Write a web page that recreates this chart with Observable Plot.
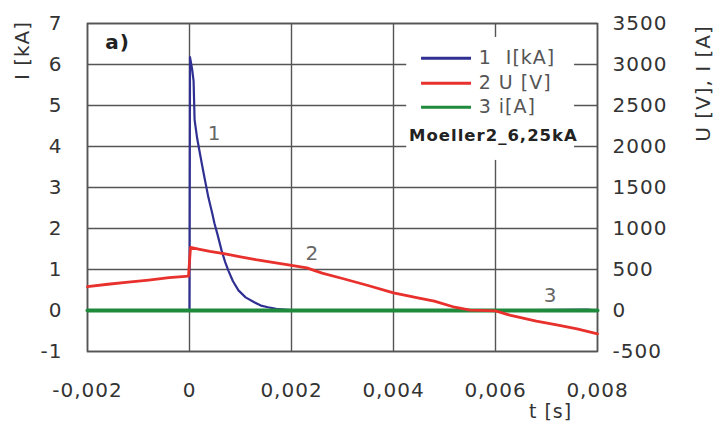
<!DOCTYPE html>
<html>
<head>
<meta charset="utf-8">
<script src="https://cdn.jsdelivr.net/npm/d3@7"></script>
<script src="https://cdn.jsdelivr.net/npm/@observablehq/plot@0.6"></script>
<style>
  html, body { margin: 0; padding: 0; background: #fff; }
</style>
</head>
<body>
<div id="chart"></div>
<script>
// ---- data ----
const xTicks = [-0.002, 0, 0.002, 0.004, 0.006, 0.008];
const yTicksLeft = [-1, 0, 1, 2, 3, 4, 5, 6, 7];
const yTicksRight = [-500, 0, 500, 1000, 1500, 2000, 2500, 3000, 3500];

// series 1: I [kA]
const tI = [-0.002, 0, 0.00001, 0.00005, 0.00008, 0.0001, 0.00015, 0.00024, 0.0003, 0.00037, 0.00045, 0.00049,
            0.00055, 0.00063, 0.0007, 0.00076, 0.00085, 0.00096, 0.0011, 0.00127, 0.0014, 0.00154, 0.0017,
            0.0018, 0.002, 0.004, 0.006, 0.0078, 0.008];
const I_kA = [0, 0, 6.18, 5.9, 5.6, 4.65, 4.2, 3.59, 3.2, 2.76, 2.35, 2.12,
              1.85, 1.46, 1.18, 0.98, 0.72, 0.49, 0.32, 0.2, 0.12, 0.08, 0.04,
              0.03, 0.01, 0.01, 0.0, 0.02, 0.0];

// series 2: U [V]
const tU = [-0.002, -0.0016, -0.0012, -0.0008, -0.0004, -0.00002, 0.00002, 0.0002, 0.0004, 0.0007, 0.001,
            0.0013, 0.0016, 0.002, 0.0023, 0.0026, 0.003, 0.0035, 0.004, 0.0045, 0.0048, 0.0052, 0.0055,
            0.006, 0.0063, 0.0068, 0.0072, 0.0076, 0.008];
const U_V = [290, 320, 345, 370, 400, 420, 770, 745, 720, 690, 655,
             620, 590, 550, 520, 455, 390, 305, 215, 150, 115, 40, 5,
             -5, -60, -130, -175, -225, -285];

// series 3: i [A]
const tIa = [-0.002, 0, 0.002, 0.004, 0.006, 0.008];
const i_A = [0, 0, 0, 0, 0, 0];

const seriesNames = ["1", "2", "3"];
const legendLabels = ["1  I[kA]", "2 U [V]", "3 i[A]"];
const caseName = "Moeller2_6,25kA";
const panelLabel = "a)";
const xTitle = "t [s]";
const yTitleLeft = "I [kA]";
const yTitleRight = "U [V], I [A]";

// ---- build tables ----
const ratio = (yTicksRight[yTicksRight.length - 1] - yTicksRight[0]) / (yTicksLeft[yTicksLeft.length - 1] - yTicksLeft[0]);
const dI = tI.map((t, k) => ({t, v: I_kA[k]}));
const dU = tU.map((t, k) => ({t, v: U_V[k] / ratio}));
const dA = tIa.map((t, k) => ({t, v: i_A[k] / ratio}));

const colors = ["#303093", "#e8302c", "#1f8a3c"];
const fmtX = d => d === 0 ? "0" : d.toFixed(3).replace(".", ",");
const fmtL = d => String(d);
const fmtR = d => String(yTicksRight[yTicksLeft.indexOf(d)]);

const legendY = [6.15, 5.54, 4.96];
const legend = legendLabels.map((label, k) => ({label, y: legendY[k], c: colors[k]}));

const chart = Plot.plot({
  width: 717,
  height: 421,
  marginLeft: 87,
  marginRight: 120,
  marginTop: 23,
  marginBottom: 70,
  x: {domain: [-0.002, 0.008]},
  y: {domain: [-1, 7]},
  style: {fontFamily: "DejaVu Sans", fontSize: "20px", color: "#333", background: "#fff", letterSpacing: "1px"},
  marks: [
    Plot.gridX(xTicks, {stroke: "#555", strokeOpacity: 1, strokeWidth: 1.4}),
    Plot.gridY(yTicksLeft, {stroke: "#555", strokeOpacity: 1, strokeWidth: 1.4}),
    Plot.frame({stroke: "#555", strokeWidth: 1.6}),
    // legend background
    Plot.rect([0], {x1: 0.00426, x2: 0.00755, y1: 3.66, y2: 6.66, fill: "white"}),
    Plot.ruleY(legend, {y: "y", x1: 0.00455, x2: 0.00553, stroke: "c", strokeWidth: 3}),
    Plot.text(legend, {y: "y", x: 0.00567, text: "label", textAnchor: "start", fill: "#555", fontSize: 19}),
    Plot.text([caseName], {x: 0.00596, y: 4.27, fill: "#222", fontWeight: "bold", fontSize: 16.5}),
    // series
    Plot.line(dI, {x: "t", y: "v", stroke: colors[0], strokeWidth: 2.2}),
    Plot.line(dA, {x: "t", y: "v", stroke: colors[2], strokeWidth: 4}),
    Plot.line(dU, {x: "t", y: "v", stroke: colors[1], strokeWidth: 2.8}),
    // curve annotations
    Plot.text([
      {s: seriesNames[0], t: 0.00049, v: 4.32},
      {s: seriesNames[1], t: 0.00241, v: 1.39},
      {s: seriesNames[2], t: 0.00708, v: 0.37}
    ], {x: "t", y: "v", text: "s", fill: "#666", fontSize: 20}),
    Plot.text([panelLabel], {x: -0.00141, y: 6.54, fontWeight: "bold", fill: "#222", fontSize: 20}),
    // axes
    Plot.axisX(xTicks, {tickFormat: fmtX, tickSize: 0, tickPadding: 31, label: null, fill: "#333"}),
    Plot.axisY(yTicksLeft, {anchor: "left", tickFormat: fmtL, tickSize: 0, tickPadding: 25, label: null, fill: "#333"}),
    Plot.axisY(yTicksLeft, {anchor: "right", tickFormat: fmtR, tickSize: 0, tickPadding: 15, label: null, fill: "#333"}),
    // axis titles
    Plot.text([xTitle], {frameAnchor: "bottom-right", textAnchor: "middle", lineAnchor: "middle", dx: -47, dy: 60, fill: "#333", fontSize: 19}),
    Plot.text([yTitleLeft], {frameAnchor: "top-left", textAnchor: "middle", lineAnchor: "middle", dx: -65, dy: 27, rotate: -90, fill: "#333", fontSize: 20}),
    Plot.text([yTitleRight], {frameAnchor: "top-right", textAnchor: "middle", lineAnchor: "middle", dx: 106, dy: 60, rotate: -90, fill: "#333", fontSize: 20})
  ]
});
document.getElementById("chart").appendChild(chart);
</script>
</body>
</html>
